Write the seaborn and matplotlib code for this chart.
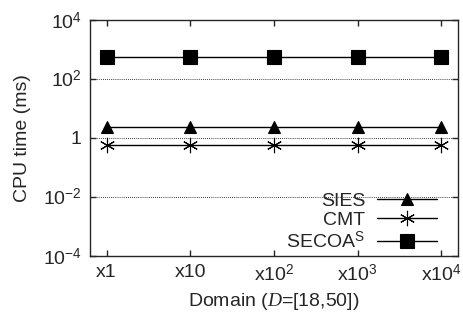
import matplotlib
matplotlib.use("Agg")
import matplotlib.pyplot as plt
import pandas as pd
import seaborn as sns
import numpy as np

domains = ["x1", "x10", "x10$^{2}$", "x10$^{3}$", "x10$^{4}$"]
sies = [2.3, 2.3, 2.3, 2.3, 2.3]
cmt = [0.6, 0.6, 0.6, 0.6, 0.6]
secoa = [550, 550, 550, 550, 550]
series = ["SIES", "CMT", r"SECOA$^{\mathrm{S}}$"]

rows = []
for name, vals in zip(series, [sies, cmt, secoa]):
    for i, v in enumerate(vals):
        rows.append({"pos": i, "time": v, "alg": name})
df = pd.DataFrame(rows)

sns.set_style("ticks")
plt.rcParams['font.family'] = ['Liberation Sans', 'DejaVu Sans']
plt.rcParams['mathtext.fontset'] = 'custom'
plt.rcParams['mathtext.rm'] = 'Liberation Sans'
plt.rcParams['mathtext.it'] = 'Liberation Serif:italic'
plt.rcParams['font.size'] = 14

fig = plt.figure(figsize=(4.63, 3.2), dpi=100)
ax = fig.add_axes([0.194, 0.2, 0.795, 0.7375])

markers = {"SIES": "^", "CMT": (6, 2, 0), series[2]: "s"}
sizes = {"SIES": 8, "CMT": 11, series[2]: 9.5}
for name in series:
    d = df[df["alg"] == name]
    sns.lineplot(ax=ax, data=d, x="pos", y="time", color="black", lw=1,
                 marker=markers[name], markersize=sizes[name],
                 markeredgecolor="black", markeredgewidth=0.8, label=name)

ax.set_yscale("log")
ax.set_ylim(1e-4, 1e4)
ax.set_xlim(-0.2, 4.2)
yt = [1e-4, 1e-2, 1, 1e2, 1e4]
ax.set_yticks(yt)
ax.set_yticklabels(["10$^{-4}$", "10$^{-2}$", "1", "10$^{2}$", "10$^{4}$"])
ax.yaxis.set_minor_locator(matplotlib.ticker.NullLocator())
ax.set_xticks(range(len(domains)))
ax.set_xticklabels(domains)
ax.tick_params(direction="in", top=True, right=True, length=4, width=1, labelsize=14, pad=6)
for y in [1e-2, 1, 1e2]:
    ax.axhline(y, color="black", lw=0.6, ls=(0, (1, 1.5)), zorder=0)
for s in ax.spines.values():
    s.set_linewidth(1)
ax.set_xlabel("Domain ($D$=[18,50])", fontsize=14, labelpad=4)
ax.set_ylabel("CPU time (ms)", fontsize=14, labelpad=8)
ax.legend(loc="lower right", bbox_to_anchor=(0.965, -0.015), frameon=False,
          markerfirst=False, fontsize=14, handlelength=3.1, labelspacing=0.08,
          borderaxespad=0, handletextpad=0.6)

fig.savefig("out.png", dpi=100)
